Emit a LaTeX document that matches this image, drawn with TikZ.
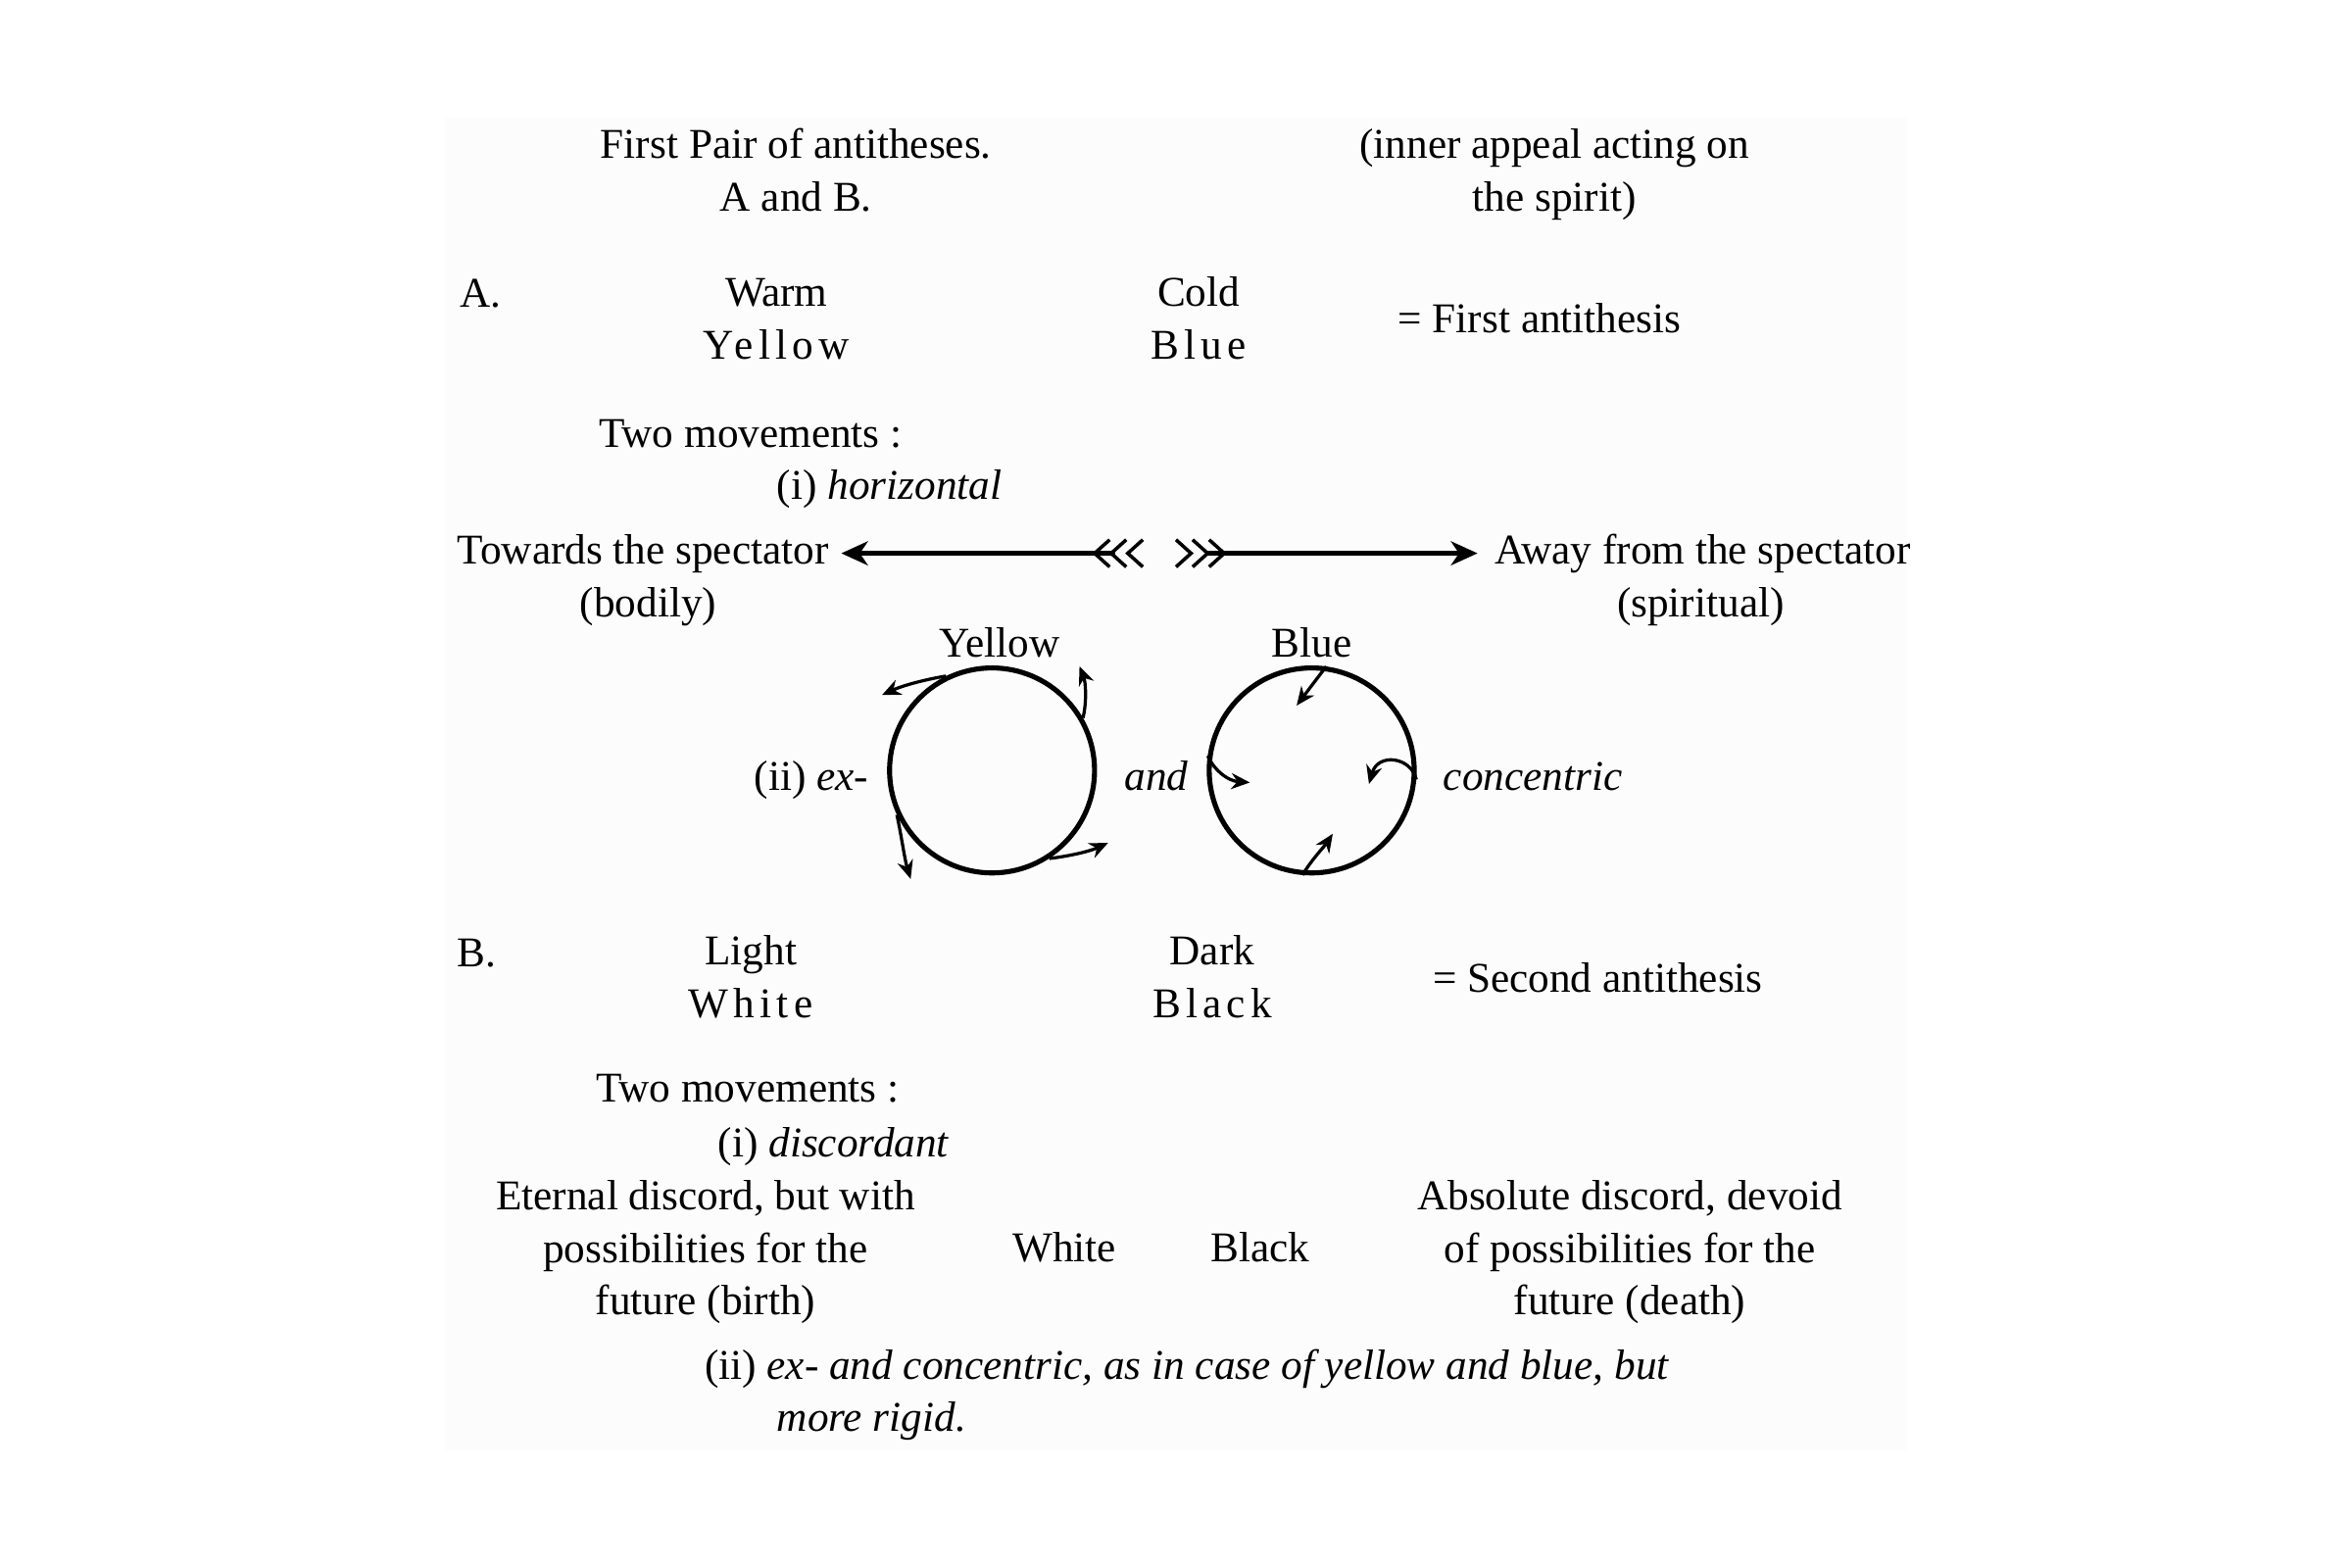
\documentclass[tikz,border=0pt]{standalone}
\usepackage{fontspec}
\setmainfont{Liberation Serif}
\usetikzlibrary{arrows.meta}
\colorlet{PageTone}{black!1.3}
\newcommand{\spaced}[1]{{\addfontfeatures{LetterSpace=12}#1}}

\begin{document}
\begin{tikzpicture}[x=0.02cm, y=-0.02cm,
    every node/.style={inner sep=0pt, anchor=base, font=\fontsize{16}{19.8}\selectfont},
    lines/.style={align=center},
    ring/.style={draw, circle, anchor=center, line width=1.9pt, minimum size=2.72cm},
    shaft/.style={line width=1.8pt},
    feather/.style={line width=1.3pt},
    spin/.style={line width=1.2pt, -{Stealth[length=7pt, width=6pt]}}]

    \useasboundingbox (0,0) rectangle (1560,1040);
    \fill[PageTone] (296,78) rectangle (1264,962);

    % ---------- Heading (base = last line)
    \node[lines] (pair) at (528,140) {First Pair of antitheses.\\A and B.};
    \node[lines] (appeal) at (1031,140) {(inner appeal acting on\\the spirit)};

    % ---------- A: warm and cold
    \node[anchor=base west] (labA) at (305,204) {A.};
    \node[lines] (warm) at (515,238) {Warm\\\spaced{Yellow}};
    \node[lines] (cold) at (795,238) {Cold\\\spaced{Blue}};
    \node[anchor=base west] (antiOne) at (927,221) {= First antithesis};

    \node[anchor=base west] (moveA) at (397,297) {Two movements :};
    \node[anchor=base west] (horiz) at (515,331) {(i) \textit{horizontal}};

    \node[anchor=base east] (toward) at (550,374) {Towards the spectator};
    \node (bodily) at (430,409) {(bodily)};
    \node[anchor=base west] (away) at (991,374) {Away from the spectator};
    \node (spiritual) at (1128,409) {(spiritual)};

    % Horizontal arrows with feathered tails
    \coordinate (tipL) at (558,367);
    \coordinate (tailL) at (740,367);
    \coordinate (tailR) at (800,367);
    \coordinate (tipR) at (980,367);
    \draw[shaft, -{Stealth[length=10pt, width=9pt, inset=3pt]}] (tailL) -- (tipL);
    \draw[shaft, -{Stealth[length=10pt, width=9pt, inset=3pt]}] (tailR) -- (tipR);
    \foreach \fx in {726,737,748}
        \draw[feather] (\fx+10,358) -- (\fx,367) -- (\fx+10,376);
    \foreach \fx in {790,801,812}
        \draw[feather] (\fx-10,358) -- (\fx,367) -- (\fx-10,376);

    % ---------- ex- and concentric circles
    \node[ring] (yc) at (658,511) {};
    \node[ring] (bc) at (870,511) {};
    \node (yellow) at (663,436) {Yellow};
    \node (blue) at (870,436) {Blue};
    \node[anchor=base west] (exLab) at (500,524) {(ii) \textit{ex-}};
    \node (andLab) at (767,524) {\textit{and}};
    \node[anchor=base west] (conLab) at (957,524) {\textit{concentric}};

    % Outward arrows (yellow)
    \coordinate (yTL) at (585,461);
    \coordinate (yTR) at (716,442);
    \coordinate (yBL) at (604,583);
    \coordinate (yBR) at (735,559);
    \draw[spin] (yc.116) .. controls (612,451) and (598,455) .. (yTL);
    \draw[spin] (yc.30) .. controls (721,465) and (720,452) .. (yTR);
    \draw[spin] (yc.205) .. controls (598,555) and (600,570) .. (yBL);
    \draw[spin] (yc.303) .. controls (708,568) and (722,565) .. (yBR);

    % Inward arrows (blue)
    \coordinate (bT) at (860,468);
    \coordinate (bL) at (829,519);
    \coordinate (bR) at (908,520);
    \coordinate (bB) at (884,553);
    \draw[spin] (bc.82) .. controls (872,452) and (866,460) .. (bT);
    \draw[spin] (bc.172) .. controls (806,512) and (815,518) .. (bL);
    \draw[spin] (bc.355) .. controls (936,502) and (914,499) .. (bR);
    \draw[spin] (bc.265) .. controls (870,570) and (878,562) .. (bB);

    % ---------- B: light and dark
    \node[anchor=base west] (labB) at (303,641) {B.};
    \node[lines] (light) at (498,675) {Light\\\spaced{White}};
    \node[lines] (dark) at (804,675) {Dark\\\spaced{Black}};
    \node[anchor=base west] (antiTwo) at (950,658) {= Second antithesis};

    \node[anchor=base west] (moveB) at (395,731) {Two movements :};
    \node[anchor=base west] (disc) at (476,767) {(i) \textit{discordant}};

    \node[lines] (birth) at (468,872) {Eternal discord, but with\\possibilities for the\\future (birth)};
    \node (white) at (706,837) {White};
    \node (black) at (836,837) {Black};
    \node[lines] (death) at (1081,872) {Absolute discord, devoid\\of possibilities for the\\future (death)};

    \node[anchor=base west] (rigidA) at (467,915) {(ii) \textit{ex- and concentric, as in case of yellow and blue, but}};
    \node[anchor=base west] (rigidB) at (515,949) {\textit{more rigid.}};

\end{tikzpicture}
\end{document}
